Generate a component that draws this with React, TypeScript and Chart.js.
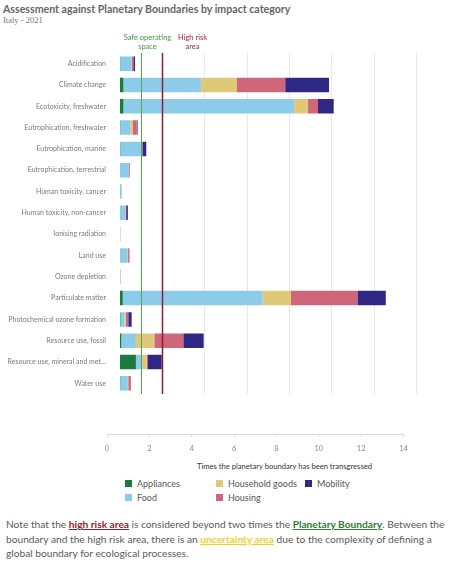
import React, { useEffect, useRef } from "react";
import { Chart, registerables } from "chart.js";

Chart.register(...registerables);

const categories = [
  "Acidification",
  "Climate change",
  "Ecotoxicity, freshwater",
  "Eutrophication, freshwater",
  "Eutrophication, marine",
  "Eutrophication, terrestrial",
  "Human toxicity, cancer",
  "Human toxicity, non-cancer",
  "Ionising radiation",
  "Land use",
  "Ozone depletion",
  "Particulate matter",
  "Photochemical ozone formation",
  "Resource use, fossil",
  "Resource use, mineral and metals",
  "Water use",
];

const appliances = [0.01, 0.16, 0.16, 0.01, 0.01, 0.0, 0.0, 0.0, 0.0, 0.0, 0.0, 0.13, 0.02, 0.06, 0.75, 0.01];
const food = [0.52, 3.66, 8.06, 0.47, 0.99, 0.42, 0.07, 0.24, 0.01, 0.33, 0.02, 6.6, 0.2, 0.69, 0.29, 0.36];
const householdGoods = [0.02, 1.68, 0.66, 0.11, 0.02, 0.01, 0.01, 0.02, 0.0, 0.04, 0.01, 1.34, 0.05, 0.87, 0.22, 0.02];
const housing = [0.08, 2.3, 0.47, 0.2, 0.04, 0.02, 0.01, 0.03, 0.01, 0.05, 0.01, 3.14, 0.12, 1.37, 0.06, 0.12];
const mobility = [0.08, 2.07, 0.74, 0.04, 0.18, 0.02, 0.0, 0.08, 0.0, 0.02, 0.0, 1.34, 0.16, 0.96, 0.65, 0.01];

const xTicks = [0, 2, 4, 6, 8, 10, 12, 14];
const safeBoundary = 1;
const highRisk = 2;

const seriesNames = ["Appliances", "Food", "Household goods", "Housing", "Mobility"];
const seriesValues = [appliances, food, householdGoods, housing, mobility];
const seriesColors = ["#1b7a3e", "#8ccbea", "#e0c879", "#cf6679", "#2f2884"];
const legendOrder = [0, 2, 4, 1, 3];

const FONT = "Lato, 'Noto Sans', sans-serif";

const boundaryPlugin = {
  id: "boundaries",
  afterDatasetsDraw(chart: any) {
    const { ctx, chartArea, scales } = chart;
    const x = scales.x;
    const x2 = scales.x2;
    const gx = Math.round(x.getPixelForValue(safeBoundary)) + 0.5;
    const rx = Math.round(x.getPixelForValue(highRisk)) + 0.5;
    ctx.save();
    ctx.lineWidth = 1;
    ctx.strokeStyle = "#55a655";
    ctx.beginPath();
    ctx.moveTo(gx, chartArea.top);
    ctx.lineTo(gx, chartArea.bottom);
    ctx.stroke();
    ctx.lineWidth = 1.5;
    ctx.strokeStyle = "#8e1f2e";
    ctx.beginPath();
    ctx.moveTo(rx, chartArea.top);
    ctx.lineTo(rx, chartArea.bottom);
    ctx.stroke();

    ctx.font = "7.5px " + FONT;
    ctx.textAlign = "center";
    ctx.textBaseline = "middle";
    ctx.fillStyle = "#3f9c3f";
    ctx.fillText("Safe operating", gx + 6, 38);
    ctx.fillText("space", gx + 6, 47);
    ctx.fillStyle = "#a3283a";
    ctx.fillText("High risk", rx + 30, 38);
    ctx.fillText("area", rx + 30, 47);

    // bottom axis line
    const y0 = Math.round(x2.top) + 0.5;
    ctx.lineWidth = 1;
    ctx.strokeStyle = "#d9d9d9";
    ctx.beginPath();
    ctx.moveTo(x2.getPixelForValue(xTicks[0]), y0);
    ctx.lineTo(x2.getPixelForValue(xTicks[xTicks.length - 1]) + 1, y0);
    ctx.stroke();
    ctx.restore();
  },
};

export default function App() {
  const canvasRef = useRef<HTMLCanvasElement | null>(null);

  useEffect(() => {
    if (!canvasRef.current) return;
    const chart = new Chart(canvasRef.current, {
      type: "bar",
      data: {
        labels: categories,
        datasets: seriesNames.map((name, i) => ({
          label: name,
          data: seriesValues[i],
          backgroundColor: seriesColors[i],
          borderWidth: 0,
          barPercentage: 0.68,
          categoryPercentage: 1,
          xAxisID: "x",
        })),
      },
      options: {
        indexAxis: "y",
        animation: false,
        responsive: false,
        maintainAspectRatio: false,
        layout: { padding: { top: 53, right: 53.5, bottom: 6, left: 0 } },
        plugins: {
          legend: { display: false },
          tooltip: { enabled: false },
        },
        scales: {
          x: {
            type: "linear",
            stacked: true,
            min: -0.614,
            max: 14,
            weight: 0,
            afterBuildTicks: (scale: any) => {
              scale.ticks = xTicks.filter((v) => v > 0).map((v) => ({ value: v }));
            },
            afterFit: (scale: any) => {
              scale.height = 40;
            },
            grid: { color: "#e9e9e9", lineWidth: 1, drawTicks: false },
            border: { display: false },
            ticks: { display: false },
          },
          x2: {
            type: "linear",
            position: "bottom",
            min: 0,
            max: 14.614,
            weight: 1,
            afterBuildTicks: (scale: any) => {
              scale.ticks = xTicks.map((v) => ({ value: v }));
            },
            afterFit: (scale: any) => {
              scale.height = 20;
            },
            grid: { display: true, drawOnChartArea: false, drawTicks: true, tickLength: 3, color: "#d9d9d9" },
            border: { display: false },
            ticks: {
              color: "#8a8a8a",
              font: { family: FONT, size: 7.5 },
              padding: 7,
              maxRotation: 0,
              autoSkip: false,
            },
          },
          y: {
            stacked: true,
            afterFit: (scale: any) => {
              scale.width = 107;
            },
            grid: { display: false, drawTicks: false },
            border: { display: false },
            ticks: {
              color: "#7a7a7a",
              font: { family: FONT, size: 7 },
              padding: 1,
              autoSkip: false,
              callback: function (this: any, value: any) {
                const s = this.getLabelForValue(value) as string;
                return s.length > 30 ? s.slice(0, 29) + "..." : s;
              },
            },
          },
        },
      },
      plugins: [boundaryPlugin],
    } as any);
    return () => chart.destroy();
  }, []);

  return (
    <div style={{ position: "absolute", left: 0, top: 0, width: 470, height: 570, background: "#fff", fontFamily: FONT }}>
      <div style={{ position: "absolute", left: 3, top: 3, fontSize: 10.6, fontWeight: 700, color: "#666", whiteSpace: "nowrap" }}>
        Assessment against Planetary Boundaries by impact category
      </div>
      <div style={{ position: "absolute", left: 3, top: 15, fontSize: 8.5, color: "#777", fontFamily: "'Liberation Serif', serif", whiteSpace: "nowrap" }}>
        Italy - 2021
      </div>
      <canvas ref={canvasRef} width={470} height={460} style={{ position: "absolute", left: 0, top: 0, width: 470, height: 460 }} />
      <div style={{ position: "absolute", left: 197, top: 461, fontSize: 7.6, color: "#333", whiteSpace: "nowrap" }}>
        Times the planetary boundary has been transgressed
      </div>
      <div style={{ position: "absolute", left: 125, top: 478, display: "grid", gridTemplateColumns: "91px 89px 90px", rowGap: 3 }}>
        {legendOrder.map((i) => (
          <div key={seriesNames[i]} style={{ display: "flex", alignItems: "center", height: 11, fontSize: 9, color: "#555", whiteSpace: "nowrap" }}>
            <span style={{ display: "inline-block", width: 7, height: 7, background: seriesColors[i], marginRight: 5 }} />
            {seriesNames[i]}
          </div>
        ))}
      </div>
      <div style={{ position: "absolute", left: 6, top: 517, width: 445, fontSize: 10.2, lineHeight: "14.5px", color: "#5a5a5a" }}>
        Note that the{" "}
        <b style={{ color: "#8e1f2e", textDecoration: "underline" }}>high risk area</b> is considered beyond two times the{" "}
        <b style={{ color: "#2e7d32", textDecoration: "underline" }}>Planetary Boundary</b>. Between the boundary and the high risk area, there is an{" "}
        <b style={{ color: "#f0d21e", textDecoration: "underline" }}>uncertainty area</b> due to the complexity of defining a global boundary for ecological processes.
      </div>
    </div>
  );
}
